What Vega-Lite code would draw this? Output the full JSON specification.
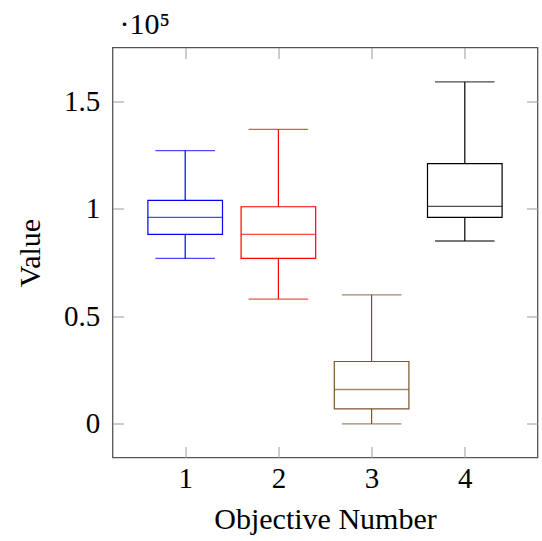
{
  "$schema": "https://vega.github.io/schema/vega-lite/v6.json",
  "width": 425,
  "height": 410,
  "autosize": "none",
  "padding": {"left": 112.5, "top": 47.5, "right": 4.5, "bottom": 83.5},
  "background": "white",
  "config": {
    "font": "Liberation Serif",
    "view": {"stroke": "#555555", "strokeWidth": 1.3},
    "axis": {
      "domain": false,
      "grid": false,
      "tickColor": "#9a9a9a",
      "tickWidth": 1,
      "tickSize": -11,
      "labelColor": "black",
      "labelFontSize": 29,
      "titleColor": "black",
      "titleFontSize": 30,
      "titleFontWeight": "normal",
      "labelFont": "Liberation Serif",
      "titleFont": "Liberation Serif"
    },
    "title": {"font": "Liberation Serif", "fontWeight": "normal", "color": "black"}
  },
  "title": {
    "text": "·10⁵",
    "fontSize": 30,
    "anchor": "start",
    "frame": "group",
    "baseline": "alphabetic",
    "dx": 7,
    "dy": 28,
    "offset": 11
  },
  "data": {
    "values": [
      {"objective": 1, "series": "1", "lower": 76900, "q1": 88100, "median": 96000, "q3": 103900, "upper": 127000},
      {"objective": 2, "series": "2", "lower": 58000, "q1": 76900, "median": 88100, "q3": 100900, "upper": 136900},
      {"objective": 3, "series": "3", "lower": 0, "q1": 7000, "median": 16000, "q3": 29000, "upper": 60000},
      {"objective": 4, "series": "4", "lower": 85000, "q1": 96000, "median": 101100, "q3": 120900, "upper": 158900}
    ]
  },
  "layer": [
    {
      "mark": {"type": "rule", "strokeWidth": 1.2},
      "encoding": {
        "x": {"field": "objective", "type": "quantitative", "scale": {"domain": [0.22, 4.78], "nice": false, "zero": false, "padding": 0},
          "axis": {"orient": "bottom", "values": [1, 2, 3, 4], "format": "d", "labelPadding": 18.4, "title": "Objective Number", "titlePadding": 11}},
        "y": {"field": "lower", "type": "quantitative", "scale": {"domain": [-15600, 174900], "nice": false, "zero": false, "padding": 0},
          "axis": {"orient": "left", "values": [0, 50000, 100000, 150000], "labelExpr": "'' + datum.value / 100000", "labelPadding": 23.7, "title": "Value", "titlePadding": 18}},
        "y2": {"field": "upper"},
        "color": {"field": "series", "type": "nominal", "scale": {"domain": ["1", "2", "3", "4"], "range": ["#0000ff", "#ff0000", "#7a552d", "#000000"]}, "legend": null}
      }
    },
    {
      "mark": {"type": "tick", "orient": "horizontal", "size": 59.6, "thickness": 1.3},
      "encoding": {
        "x": {"field": "objective", "type": "quantitative",
          "axis": {"orient": "top", "values": [1, 2, 3, 4], "labels": false, "title": null}},
        "y": {"field": "lower", "type": "quantitative",
          "axis": {"orient": "right", "values": [0, 50000, 100000, 150000], "labels": false, "title": null}},
        "color": {"field": "series", "type": "nominal", "legend": null}
      }
    },
    {
      "mark": {"type": "tick", "orient": "horizontal", "size": 59.6, "thickness": 1.3},
      "encoding": {
        "x": {"field": "objective", "type": "quantitative", "axis": null},
        "y": {"field": "upper", "type": "quantitative", "axis": null},
        "color": {"field": "series", "type": "nominal", "legend": null}
      }
    },
    {
      "mark": {"type": "bar", "size": 74.6, "fill": "white", "strokeWidth": 1.2},
      "encoding": {
        "x": {"field": "objective", "type": "quantitative", "axis": null},
        "y": {"field": "q1", "type": "quantitative", "axis": null},
        "y2": {"field": "q3"},
        "stroke": {"field": "series", "type": "nominal", "scale": {"domain": ["1", "2", "3", "4"], "range": ["#0000ff", "#ff0000", "#7a552d", "#000000"]}, "legend": null}
      }
    },
    {
      "mark": {"type": "tick", "orient": "horizontal", "size": 74.6, "thickness": 1.3},
      "encoding": {
        "x": {"field": "objective", "type": "quantitative", "axis": null},
        "y": {"field": "median", "type": "quantitative", "axis": null},
        "color": {"field": "series", "type": "nominal", "legend": null}
      }
    }
  ],
  "resolve": {"axis": {"x": "independent", "y": "independent"}}
}
